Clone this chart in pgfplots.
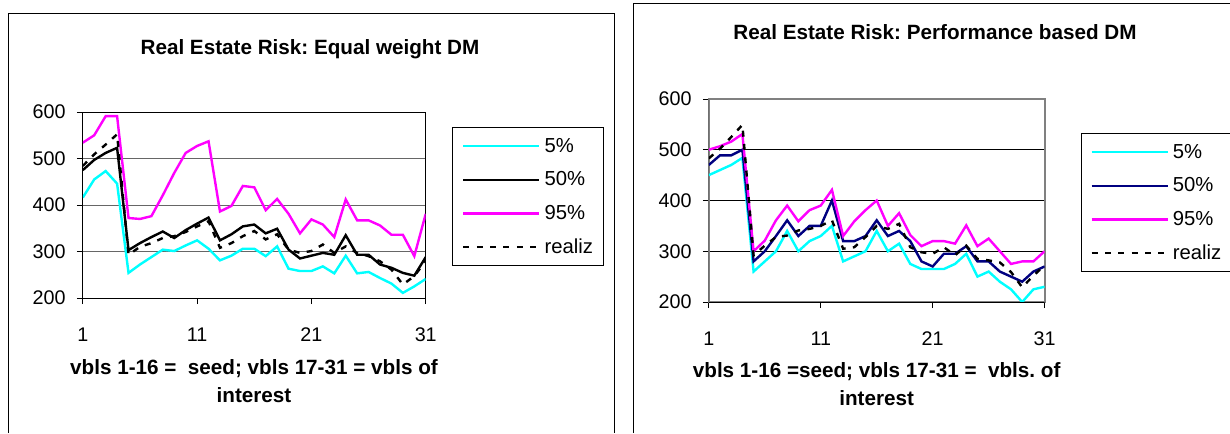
\documentclass[border=0pt]{standalone}
\usepackage{fontspec}
\setmainfont{Liberation Sans}
\usepackage{pgfplots}
\usepackage{pgfplotstable}
\pgfplotsset{compat=1.18}
\definecolor{cy}{RGB}{0,255,255}
\definecolor{mg}{RGB}{255,0,255}
\definecolor{nv}{RGB}{0,0,128}
\definecolor{gr}{RGB}{128,128,128}

\pgfplotstableread{
x p5 p50 p95 real
1 416 475 534 484
2 455 497 550 509
3 473 512 591 530
4 446 523 591 552
5 254 303 372 293
6 272 318 370 310
7 288 331 376 318
8 304 343 421 329
9 301 329 469 333
10 313 346 512 342
11 324 360 527 354
12 306 373 537 365
13 281 324 386 308
14 291 337 398 318
15 306 354 441 333
16 306 358 438 344
17 290 339 389 326
18 311 349 413 337
19 263 304 381 304
20 258 285 339 297
21 258 291 369 301
22 268 297 358 315
23 253 293 331 297
24 291 335 412 311
25 253 293 367 297
26 256 293 367 290
27 243 272 356 279
28 231 265 336 261
29 211 254 336 229
30 225 248 290 247
31 241 288 381 280
}\tableL

\pgfplotstableread{
x p5 p50 p95 real
1 450 470 500 483
2 460 489 507 502
3 470 489 516 525
4 484 500 531 549
5 260 280 300 292
6 280 300 321 311
7 300 330 361 328
8 340 361 390 331
9 300 330 359 341
10 320 350 381 344
11 330 350 390 350
12 350 400 421 361
13 280 320 330 305
14 290 320 359 308
15 300 330 381 328
16 340 361 400 350
17 300 330 350 344
18 315 340 375 354
19 275 320 332 308
20 265 280 310 298
21 265 270 320 295
22 265 295 320 308
23 275 295 315 292
24 295 310 351 311
25 250 280 310 285
26 260 280 325 282
27 240 260 300 278
28 225 250 275 259
29 200 240 280 229
30 225 260 280 252
31 230 270 300 272
}\tableR

\pgfplotsset{
  chartstyle/.style={
    scale only axis,
    xmin=1, xmax=31, ymin=200, ymax=600,
    xtick={1,11,21,31}, ytick={200,300,400,500,600},
    xtick pos=bottom, ytick pos=left,
    tick align=outside, major tick length=4.5pt,
    every tick/.style={black, line width=0.75pt},
    ymajorgrids,
    axis line style={line width=0.75pt},
    /pgf/number format/assume math mode=true,
    ticklabel style={font=\fontsize{14.8}{17}\selectfont},
    yticklabel style={anchor=east, inner sep=0pt, xshift=-8.2pt},
    xticklabel style={anchor=center, inner sep=0pt, yshift=-23.2pt},
    legend cell align=left,
    legend style={anchor=north west, draw=black, line width=0.75pt,
      inner xsep=7pt, inner ysep=1.2pt, row sep=0pt, column sep=3pt,
      font=\fontsize{15.2}{17}\selectfont,
      nodes={inner sep=0pt, minimum height=25.3pt, text width=37pt, align=left}},
    legend image code/.code={\draw[##1] (0pt,0pt) -- (57pt,0pt);},
    every axis plot/.append style={line width=1.8pt},
  }
}

\begin{document}
\frenchspacing
\begin{tikzpicture}
\useasboundingbox (0,0) rectangle (922.5pt,324.75pt);
% frames
\draw[line width=0.75pt] (6pt,0pt) -- (6pt,314.25pt) -- (460.5pt,314.25pt) -- (460.5pt,0pt);
\draw[line width=0.75pt] (474.75pt,0pt) -- (474.75pt,321.75pt) -- (922.5pt,321.75pt);

\begin{axis}[chartstyle,
  at={(62.1pt,101.25pt)}, anchor=south west,
  width=257.2pt, height=139.5pt,
  grid style={line width=0.75pt, black!60},
  legend style={at={(1.0779,0.919)}},
]
\addplot[cy] table[x=x,y=p5] {\tableL};
\addlegendentry{5\%}
\addplot[black] table[x=x,y=p50] {\tableL};
\addlegendentry{50\%}
\addplot[mg] table[x=x,y=p95] {\tableL};
\addlegendentry{95\%}
\addplot[black, dash pattern=on 4.5pt off 5.5pt] table[x=x,y=real] {\tableL};
\addlegendentry{realiz}
\end{axis}

\begin{axis}[chartstyle,
  at={(531.6pt,98.25pt)}, anchor=south west,
  width=251.85pt, height=152.25pt,
  grid style={line width=0.75pt, black},
  axis line style={line width=1.5pt, gr},
  legend style={at={(1.1075,0.8325)}},
]
\addplot[cy] table[x=x,y=p5] {\tableR};
\addlegendentry{5\%}
\addplot[nv] table[x=x,y=p50] {\tableR};
\addlegendentry{50\%}
\addplot[mg] table[x=x,y=p95] {\tableR};
\addlegendentry{95\%}
\addplot[black, dash pattern=on 4.5pt off 5.5pt] table[x=x,y=real] {\tableR};
\addlegendentry{realiz}
\draw[black, line width=0.75pt] (rel axis cs:0,1) -- (rel axis cs:0,0) -- (rel axis cs:1,0);
\end{axis}

% titles
\node[font=\fontsize{15.5}{18}\selectfont\bfseries] at (232.5pt,287.5pt) {Real Estate Risk: Equal weight DM};
\node[font=\fontsize{15.5}{18}\selectfont\bfseries] at (701.25pt,300.5pt) {Real Estate Risk: Performance based DM};
% axis labels
\node[font=\fontsize{15.5}{21}\selectfont\bfseries, align=center] at (190.5pt,39pt) {vbls 1-16 =\ \ seed; vbls 17-31 = vbls of\\interest};
\node[font=\fontsize{15.5}{21}\selectfont\bfseries, align=center] at (657.5pt,36.75pt) {vbls 1-16 =seed; vbls 17-31 =\ \ vbls. of\\interest};
\end{tikzpicture}
\end{document}
